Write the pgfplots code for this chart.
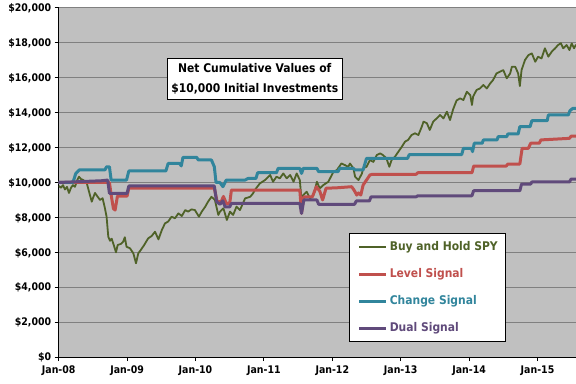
\documentclass[border=0pt]{standalone}
\usepackage{fontspec}
\setmainfont{DejaVu Sans Condensed}
\usepackage{pgfplots}
\pgfplotsset{compat=1.18}
\definecolor{bgc}{HTML}{C0C0C0}
\definecolor{gridc}{HTML}{808080}
\definecolor{spyc}{HTML}{4F6228}
\definecolor{levc}{HTML}{C0504D}
\definecolor{chgc}{HTML}{31859C}
\definecolor{dualc}{HTML}{604A7B}
\begin{document}
\begin{tikzpicture}
\begin{axis}[
  at={(0,0)}, anchor=south west,
  scale only axis, width=517.3bp, height=349bp,
  xmin=0, xmax=90.75, ymin=0, ymax=20000,
  axis background/.style={fill=bgc},
  axis x line*=bottom, axis y line*=left,
  axis line style={-, black, line width=1bp},
  xtick={0,12,24,36,48,60,72,84},
  xticklabels={Jan-08,Jan-09,Jan-10,Jan-11,Jan-12,Jan-13,Jan-14,Jan-15},
  ytick={0,2000,4000,6000,8000,10000,12000,14000,16000,18000,20000},
  yticklabels={{\$0},{\$2,000},{\$4,000},{\$6,000},{\$8,000},{\$10,000},{\$12,000},{\$14,000},{\$16,000},{\$18,000},{\$20,000}},
  tick align=outside, major tick length=4bp,
  tick style={black, line width=1bp},
  ymajorgrids, major grid style={gridc, line width=1bp},
  ticklabel style={font=\fontsize{10.5}{12}\selectfont\bfseries},
  yticklabel style={text height=7.6bp, text depth=0bp},
  /pgf/number format/assume math mode=true,
  xticklabel style={yshift=-1bp},
  every axis plot/.append style={line join=round},
  legend cell align=left,
  legend image code/.code={\draw[#1] (0bp,0bp) -- (27bp,0bp);},
  legend style={at={(0.5618,0.3544)}, anchor=north west, draw=black, line width=1bp, fill=white,
    font=\fontsize{12}{14}\selectfont\bfseries, row sep=15bp, column sep=2bp,
    inner xsep=8bp, inner ysep=7.5bp,
    nodes={inner sep=0pt, text height=9bp, text depth=3bp}},
]
\addplot[spyc, line width=1.8bp] coordinates {(0,9800) (0.4,9700) (0.75,9850) (1.1,9600) (1.46,9750) (1.8,9400) (2.16,9700) (2.5,9850) (2.86,9750) (3.2,10100) (3.56,10330) (3.9,10200) (4.26,10150) (4.9,10000) (5.3,9500) (5.8,8900) (6.0,9100) (6.37,9400) (6.8,9200) (7.25,9000) (7.7,9100) (8.1,8540) (8.4,8040) (8.7,6890) (9.0,6660) (9.3,6780) (9.75,6320) (10.05,6000) (10.35,6420) (10.9,6480) (11.3,6600) (11.6,6860) (11.9,6320) (12.5,6230) (13.1,5940) (13.56,5370) (13.96,5940) (14.4,6130) (15.0,6420) (15.7,6800) (16.3,6930) (16.9,7180) (17.5,6740) (18.1,7280) (18.65,7660) (19.2,7760) (19.8,8040) (20.4,7950) (21.0,8230) (21.6,8080) (22.2,8420) (22.7,8330) (23.3,8460) (23.9,8420) (24.6,8040) (25.1,8330) (25.7,8610) (26.2,8900) (26.8,9180) (27.4,9000) (28.0,8140) (28.3,8330) (28.9,8520) (29.5,7850) (30.05,8330) (30.6,8140) (31.2,8620) (31.8,8420) (32.7,9090) (33.6,9180) (34.1,9380) (34.4,9570) (35.3,9950) (36.2,10140) (37.1,10430) (37.6,10040) (38.2,10330) (38.8,10240) (39.4,10520) (40.0,10240) (40.6,10430) (41.2,10040) (41.75,10520) (42.3,10140) (42.6,9000) (42.9,9280) (43.5,9470) (44.1,9090) (44.7,9280) (45.3,10040) (45.8,9660) (46.4,9850) (47.3,10040) (48.2,10620) (48.8,10710) (49.6,11090) (50.2,11000) (50.8,10900) (51.1,11090) (51.7,10810) (52.0,10330) (52.6,10140) (53.2,10520) (53.4,10810) (54.0,10900) (54.6,11290) (55.2,11180) (55.8,11570) (56.4,11670) (56.9,11570) (57.5,11380) (58.0,10900) (58.4,11290) (59.0,11480) (59.6,11770) (60.2,12050) (60.75,12340) (61.3,12440) (61.9,12720) (62.5,12820) (63.1,12720) (63.7,13200) (64.0,13490) (64.6,13390) (65.1,13010) (65.7,13490) (66.3,13670) (66.9,13870) (67.5,13670) (68.1,14060) (68.65,13580) (69.2,14200) (69.8,14700) (70.4,14820) (71.0,14730) (71.6,15200) (72.2,15010) (72.5,14440) (72.7,14920) (73.3,15300) (73.9,15390) (74.5,15590) (75.1,15390) (75.7,15680) (76.2,15870) (76.8,16250) (77.4,16350) (78.0,16440) (78.6,15970) (79.2,16250) (79.5,16630) (80.1,16630) (80.6,16250) (80.9,15530) (81.2,16440) (81.8,17020) (82.4,17300) (83.0,17400) (83.6,16920) (84.1,17210) (84.7,17110) (85.3,17690) (85.9,17210) (86.5,17500) (87.1,17690) (87.6,17880) (88.1,17980) (88.5,17690) (89.1,17880) (89.6,17590) (90.0,17970) (90.4,17690) (90.75,17900)};
\addlegendentry{\textcolor{spyc}{Buy and Hold SPY}}
\addplot[levc, line width=3bp] coordinates {(0,10000) (8.9,10000) (9.2,9300) (9.6,8500) (9.9,8420) (10.3,9220) (12.0,9220) (12.3,9680) (27.3,9680) (27.8,8900) (28.5,8900) (28.9,9200) (29.4,8800) (30.0,8800) (30.3,9570) (42.3,9570) (42.6,8230) (43.0,9180) (44.5,9180) (45.2,9760) (45.8,9500) (46.3,9000) (46.9,9670) (49.0,9700) (51.4,9760) (51.8,9570) (52.3,9280) (52.6,9400) (53.0,9280) (53.4,9850) (54.0,10140) (54.6,10430) (55.0,10470) (62.7,10470) (63.0,10560) (72.5,10560) (72.8,10940) (78.5,10940) (78.8,11060) (80.9,11060) (81.3,11960) (82.4,11960) (82.8,12250) (84.3,12250) (84.6,12440) (89.6,12530) (89.9,12660) (90.75,12660)};
\addlegendentry{\textcolor{levc}{Level Signal}}
\addplot[chgc, line width=3bp] coordinates {(0,10000) (2.5,10000) (3.0,10520) (3.6,10720) (8.1,10720) (8.4,10900) (8.9,10900) (9.2,10140) (11.9,10140) (12.3,10660) (18.8,10660) (19.2,11090) (21.2,11090) (21.5,10950) (21.8,11440) (24.2,11440) (24.5,11290) (26.8,11290) (27.3,10900) (27.6,10000) (28.3,10000) (28.8,9760) (29.4,10140) (32.7,10140) (33.2,10230) (34.6,10230) (34.9,10560) (38.2,10560) (38.5,10810) (42.3,10810) (42.6,10520) (42.9,10810) (45.3,10810) (45.6,10620) (49.0,10620) (49.3,10810) (51.7,10810) (52.0,10720) (53.4,10720) (54.0,11380) (61.2,11380) (61.5,11600) (70.7,11600) (71.0,11960) (72.4,11960) (72.6,11770) (72.9,12250) (74.3,12250) (74.5,12440) (76.9,12440) (77.1,12630) (78.6,12630) (78.8,12780) (80.6,12780) (80.9,13200) (82.7,13200) (83.0,13540) (85.7,13540) (85.9,13870) (89.4,13870) (89.7,14120) (90.2,14250) (90.75,14250)};
\addlegendentry{\textcolor{chgc}{Change Signal}}
\addplot[dualc, line width=3bp] coordinates {(0,10000) (3,10040) (7.5,10100) (8.6,10140) (8.9,9380) (12.0,9380) (12.3,9800) (27.3,9800) (27.7,8900) (28.3,8750) (28.8,8950) (29.2,8600) (30.0,8600) (30.3,8800) (42.3,8800) (42.6,8230) (43.0,9000) (45.3,9000) (45.6,8750) (51.9,8750) (52.2,8940) (54.5,8940) (54.8,9180) (62.7,9180) (63.0,9240) (72.5,9240) (72.8,9530) (80.9,9530) (81.2,9910) (82.8,9910) (83.0,10030) (89.6,10030) (89.9,10200) (90.75,10200)};
\addlegendentry{\textcolor{dualc}{Dual Signal}}
\node[draw=black, line width=1bp, fill=white, align=center, inner xsep=4bp, inner ysep=5bp,
  font=\fontsize{12}{20}\selectfont\bfseries] at (axis cs:34.4,15930)
  {Net Cumulative Values of\\\$10,000 Initial Investments};
\end{axis}
\pgfresetboundingbox
\path[use as bounding box] (-58.7bp,-27bp) rectangle (517.3bp,357bp);
\end{tikzpicture}
\end{document}
